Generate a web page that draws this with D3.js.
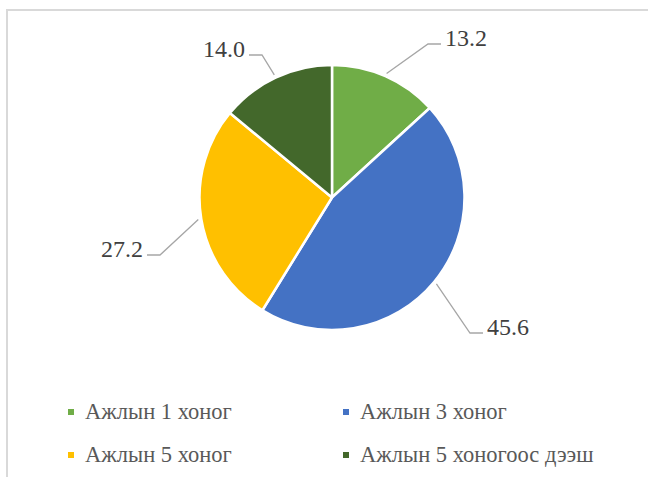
<!DOCTYPE html>
<html>
<head>
<meta charset="utf-8">
<script src="https://cdn.jsdelivr.net/npm/d3@7"></script>
<style>
  body { margin: 0; background: #fff; }
  svg { display: block; }
  .label { font-family: "Liberation Serif", "Times New Roman", serif; font-size: 24px; fill: #404040; }
  .legend text { font-family: "Liberation Serif", "Times New Roman", serif; font-size: 22.5px; fill: #595959; }
</style>
</head>
<body>
<svg width="648" height="477"></svg>
<script>
// data
var categories = ["Ажлын 1 хоног", "Ажлын 3 хоног", "Ажлын 5 хоног", "Ажлын 5 хоногоос дээш"];
var values = [13.2, 45.6, 27.2, 14.0];
var labels = ["13.2", "45.6", "27.2", "14.0"];

var colors = ["#70AD47", "#4472C4", "#FFC000", "#43682B"];

var svg = d3.select("svg"),
    cx = 332, cy = 197.5,
    radius = 132.5;

// chart frame (runs off the right and bottom of the picture)
svg.append("rect")
    .attr("x", 7).attr("y", 10)
    .attr("width", 700).attr("height", 520)
    .attr("fill", "none")
    .attr("stroke", "#D9D9D9")
    .attr("stroke-width", 2);

var g = svg.append("g").attr("transform", "translate(" + cx + "," + cy + ")");

var pie = d3.pie().sort(null).value(function(d) { return d; });
var arc = d3.arc().innerRadius(0).outerRadius(radius);
var arcs = pie(values);

g.selectAll(".slice")
    .data(arcs)
    .enter().append("path")
    .attr("class", "slice")
    .attr("d", arc)
    .attr("fill", function(d, i) { return colors[i]; })
    .attr("stroke", "#fff")
    .attr("stroke-width", 2.5)
    .attr("stroke-linejoin", "round");

// leader line elbows, placed by hand like the original (offset from centre)
var elbows = [[96, -153.5], [138, 135.5], [-172, 57.5], [-70, -142.5]];
var tail = 13;

var lab = g.selectAll(".lab")
    .data(arcs)
    .enter().append("g")
    .attr("class", "lab");

lab.append("polyline")
    .attr("fill", "none")
    .attr("stroke", "#A6A6A6")
    .attr("stroke-width", 1.3)
    .attr("points", function(d, i) {
        var a = (d.startAngle + d.endAngle) / 2,
            r0 = radius + 3,
            e = elbows[i],
            side = e[0] > 0 ? 1 : -1;
        var p0 = [r0 * Math.sin(a), -r0 * Math.cos(a)];
        return [p0, e, [e[0] + side * tail, e[1]]].map(function(p) { return p.join(","); }).join(" ");
    });

lab.append("text")
    .attr("class", "label")
    .attr("x", function(d, i) { var e = elbows[i]; return e[0] > 0 ? e[0] + tail + 4 : e[0] - tail - 4; })
    .attr("y", function(d, i) { return elbows[i][1] + 1.5; })
    .attr("text-anchor", function(d, i) { return elbows[i][0] > 0 ? "start" : "end"; })
    .text(function(d, i) { return labels[i]; });

// legend, two columns
var legend = svg.append("g").attr("class", "legend");
var colX = [68, 343], rowY = [419, 462];

var item = legend.selectAll(".item")
    .data(categories)
    .enter().append("g")
    .attr("class", "item")
    .attr("transform", function(d, i) { return "translate(" + colX[i % 2] + "," + rowY[Math.floor(i / 2)] + ")"; });

item.append("rect")
    .attr("x", 0).attr("y", -10)
    .attr("width", 6).attr("height", 6)
    .attr("fill", function(d, i) { return colors[i]; });

item.append("text")
    .attr("x", 17)
    .attr("y", 0)
    .text(function(d) { return d; });
</script>
</body>
</html>
